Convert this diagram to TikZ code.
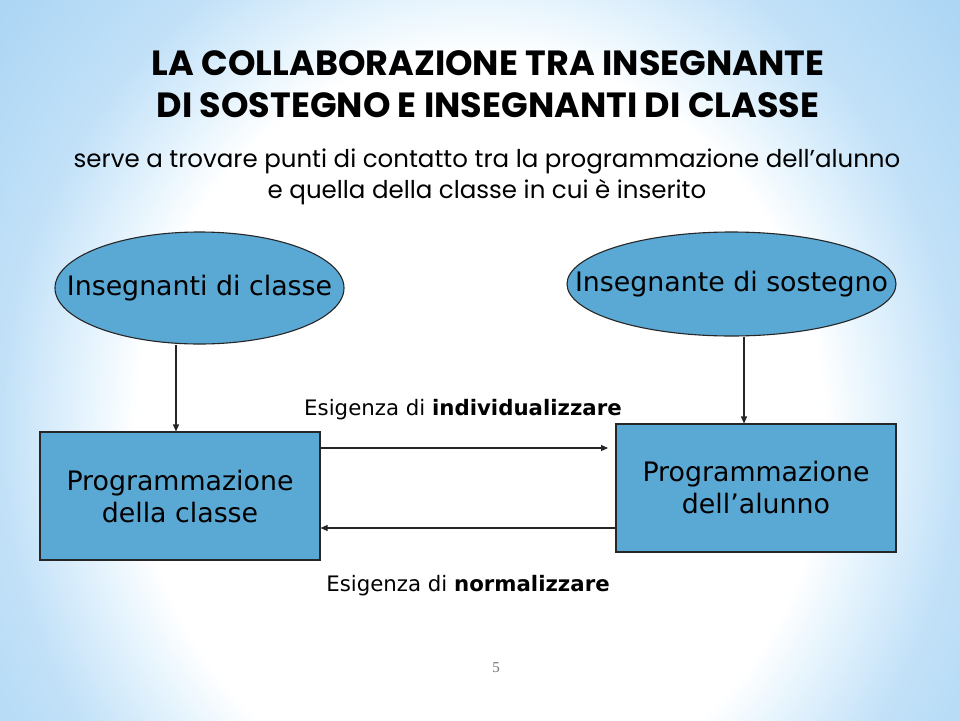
\documentclass[tikz,border=0pt]{standalone}
\usepackage{fontspec}
\setmainfont{DejaVu Sans}
\newfontfamily\ttlfont{Poppins}
\newfontfamily\numfont{Liberation Serif}
\usetikzlibrary{shapes.geometric,arrows.meta}
\definecolor{nodefill}{HTML}{5AA8D4}
\definecolor{bgA}{HTML}{E6F4FD}
\definecolor{bgB}{HTML}{C2E1F8}
\definecolor{bgC}{HTML}{AAD5F4}
\definecolor{bgD}{HTML}{A0D0F2}
\pgfdeclareradialshading{slidebg}{\pgfpoint{0bp}{0bp}}{color(0bp)=(white); color(16.5bp)=(white); color(19bp)=(bgA); color(23bp)=(bgB); color(30bp)=(bgC); color(36bp)=(bgD); color(50bp)=(bgD)}
\tikzset{
  ell/.style={ellipse, draw=black!85, line width=1.1pt, fill=nodefill, inner sep=0pt},
  box/.style={rectangle, draw=black!85, line width=1.1pt, fill=nodefill, inner sep=0pt, align=center, font=\fontsize{26.8}{32}\selectfont},
  elltext/.style={inner sep=0pt, font=\fontsize{26.8}{32}\selectfont},
  conn/.style={line width=1.1pt, draw=black!85, -{Triangle[length=7pt,width=6pt]}},
  lbl/.style={font=\fontsize{21.3}{24}\selectfont, inner sep=0pt}
}
\begin{document}
\begin{tikzpicture}[x=1pt,y=-1pt]
\useasboundingbox (0,0) rectangle (960,720);
\begin{scope}
\clip (0,0) rectangle (960,720);
\shade[shading=slidebg] (-40,-140) rectangle (1000,1000);
\end{scope}
% title
\node[font=\ttlfont\bfseries\fontsize{35}{42}\selectfont, inner sep=0pt, align=center] (title) at (488,84) {LA COLLABORAZIONE TRA INSEGNANTE\\DI SOSTEGNO E INSEGNANTI DI CLASSE};
\node[font=\ttlfont\fontsize{24.5}{31}\selectfont, inner sep=0pt, align=center] (sub) at (487,177) {serve a trovare punti di contatto tra la programmazione dell’alunno\\e quella della classe in cui è inserito};
% ellipses
\node[ell, minimum width=289pt, minimum height=112pt] (ic) at (199.5,288) {};
\node[elltext] (ict) at (ic.center) {Insegnanti di classe};
\node[ell, minimum width=329pt, minimum height=104pt] (is) at (731.5,284) {};
\node[elltext] (ist) at (is.center) {Insegnante di sostegno};
% boxes
\node[box, minimum width=280pt, minimum height=128pt] (pc) at (180,496) {Programmazione\\della classe};
\node[box, minimum width=280pt, minimum height=128pt] (pa) at (756,488) {Programmazione\\dell’alunno};
% vertical arrows
\draw[conn] (ic.south -| 176,0) -- (pc.north -| 176,0);
\draw[conn] (is.south -| 744,0) -- (pa.north -| 744,0);
% horizontal arrows
\coordinate (a1e) at (608,448);
\draw[conn] (pc.east |- a1e) -- (a1e);
\draw[conn] (pa.west |- 0,528) -- (pc.east |- 0,528);
% labels
\node[lbl] (l1) at (463,410) {Esigenza di \textbf{individualizzare}};
\node[lbl] (l2) at (468,586) {Esigenza di \textbf{normalizzare}};
\node[font=\numfont\fontsize{15}{18}\selectfont, text=black!55, inner sep=0pt] (num) at (496,668) {5};
\end{tikzpicture}
\end{document}
